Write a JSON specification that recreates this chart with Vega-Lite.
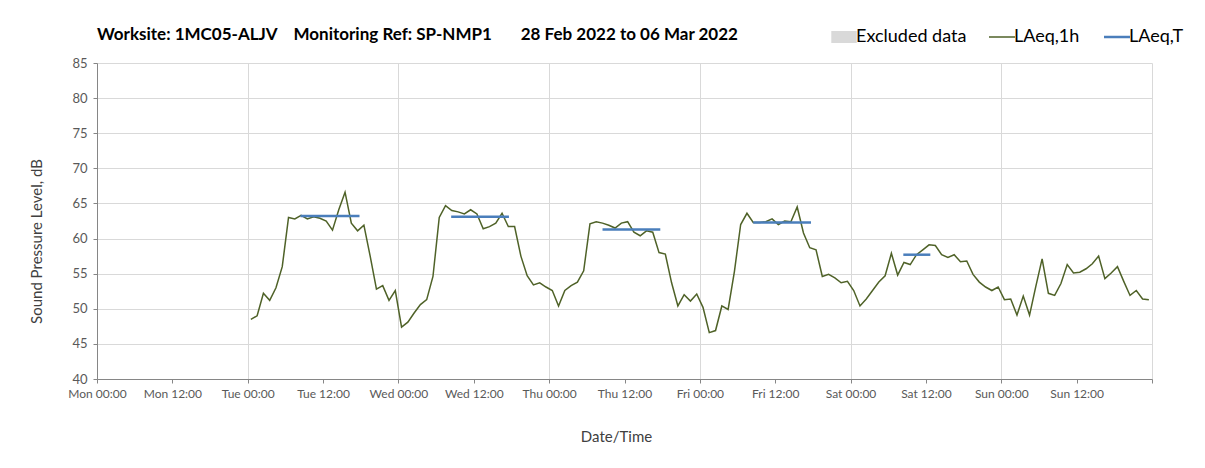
{
  "$schema": "https://vega.github.io/schema/vega-lite/v6.json",
  "autosize": "none",
  "width": 1055,
  "height": 316,
  "padding": {"left": 97, "top": 63, "right": 53, "bottom": 89},
  "background": "white",
  "config": {
    "font": "Lato",
    "view": {"stroke": null},
    "axis": {
      "domainColor": "#868686",
      "tickColor": "#868686",
      "tickSize": 4,
      "gridColor": "#d9d9d9",
      "labelColor": "#595959",
      "labelFont": "Lato",
      "labelFontSize": 12,
      "titleFont": "Lato",
      "titleFontSize": 15,
      "titleFontWeight": "normal",
      "titleColor": "#404040"
    }
  },
  "title": {
    "text": "Worksite: 1MC05-ALJV\u00a0\u00a0\u00a0\u00a0Monitoring Ref: SP-NMP1\u00a0\u00a0\u00a0\u00a0\u00a0\u00a0\u00a028 Feb 2022 to 06 Mar 2022",
    "anchor": "start",
    "frame": "group",
    "font": "Lato",
    "fontSize": 17,
    "fontWeight": "bold",
    "color": "#000000",
    "offset": 20,
    "dy": 36
  },
  "datasets": {
    "hourly": [
      {"t": "2022-03-01T00:30:00", "v": 48.5}, {"t": "2022-03-01T01:30:00", "v": 49.0}, {"t": "2022-03-01T02:30:00", "v": 52.2}, {"t": "2022-03-01T03:30:00", "v": 51.2},
      {"t": "2022-03-01T04:30:00", "v": 53.0}, {"t": "2022-03-01T05:30:00", "v": 56.0}, {"t": "2022-03-01T06:30:00", "v": 63.0}, {"t": "2022-03-01T07:30:00", "v": 62.8},
      {"t": "2022-03-01T08:30:00", "v": 63.3}, {"t": "2022-03-01T09:30:00", "v": 62.8}, {"t": "2022-03-01T10:30:00", "v": 63.1}, {"t": "2022-03-01T11:30:00", "v": 62.9},
      {"t": "2022-03-01T12:30:00", "v": 62.5}, {"t": "2022-03-01T13:30:00", "v": 61.2}, {"t": "2022-03-01T14:30:00", "v": 64.1}, {"t": "2022-03-01T15:30:00", "v": 66.6},
      {"t": "2022-03-01T16:30:00", "v": 62.2}, {"t": "2022-03-01T17:30:00", "v": 61.1}, {"t": "2022-03-01T18:30:00", "v": 61.9}, {"t": "2022-03-01T19:30:00", "v": 57.5},
      {"t": "2022-03-01T20:30:00", "v": 52.8}, {"t": "2022-03-01T21:30:00", "v": 53.3}, {"t": "2022-03-01T22:30:00", "v": 51.2}, {"t": "2022-03-01T23:30:00", "v": 52.6},
      {"t": "2022-03-02T00:30:00", "v": 47.4}, {"t": "2022-03-02T01:30:00", "v": 48.1}, {"t": "2022-03-02T02:30:00", "v": 49.4}, {"t": "2022-03-02T03:30:00", "v": 50.6},
      {"t": "2022-03-02T04:30:00", "v": 51.3}, {"t": "2022-03-02T05:30:00", "v": 54.6}, {"t": "2022-03-02T06:30:00", "v": 63.0}, {"t": "2022-03-02T07:30:00", "v": 64.7},
      {"t": "2022-03-02T08:30:00", "v": 64.0}, {"t": "2022-03-02T09:30:00", "v": 63.8}, {"t": "2022-03-02T10:30:00", "v": 63.5}, {"t": "2022-03-02T11:30:00", "v": 64.1},
      {"t": "2022-03-02T12:30:00", "v": 63.5}, {"t": "2022-03-02T13:30:00", "v": 61.4}, {"t": "2022-03-02T14:30:00", "v": 61.7}, {"t": "2022-03-02T15:30:00", "v": 62.2},
      {"t": "2022-03-02T16:30:00", "v": 63.6}, {"t": "2022-03-02T17:30:00", "v": 61.7}, {"t": "2022-03-02T18:30:00", "v": 61.7}, {"t": "2022-03-02T19:30:00", "v": 57.5},
      {"t": "2022-03-02T20:30:00", "v": 54.7}, {"t": "2022-03-02T21:30:00", "v": 53.4}, {"t": "2022-03-02T22:30:00", "v": 53.7}, {"t": "2022-03-02T23:30:00", "v": 53.1},
      {"t": "2022-03-03T00:30:00", "v": 52.6}, {"t": "2022-03-03T01:30:00", "v": 50.4}, {"t": "2022-03-03T02:30:00", "v": 52.6}, {"t": "2022-03-03T03:30:00", "v": 53.3},
      {"t": "2022-03-03T04:30:00", "v": 53.8}, {"t": "2022-03-03T05:30:00", "v": 55.4}, {"t": "2022-03-03T06:30:00", "v": 62.1}, {"t": "2022-03-03T07:30:00", "v": 62.4},
      {"t": "2022-03-03T08:30:00", "v": 62.2}, {"t": "2022-03-03T09:30:00", "v": 61.9}, {"t": "2022-03-03T10:30:00", "v": 61.5}, {"t": "2022-03-03T11:30:00", "v": 62.2},
      {"t": "2022-03-03T12:30:00", "v": 62.4}, {"t": "2022-03-03T13:30:00", "v": 60.9}, {"t": "2022-03-03T14:30:00", "v": 60.4}, {"t": "2022-03-03T15:30:00", "v": 61.1},
      {"t": "2022-03-03T16:30:00", "v": 60.9}, {"t": "2022-03-03T17:30:00", "v": 58.0}, {"t": "2022-03-03T18:30:00", "v": 57.8}, {"t": "2022-03-03T19:30:00", "v": 53.7},
      {"t": "2022-03-03T20:30:00", "v": 50.4}, {"t": "2022-03-03T21:30:00", "v": 52.0}, {"t": "2022-03-03T22:30:00", "v": 51.1}, {"t": "2022-03-03T23:30:00", "v": 52.1},
      {"t": "2022-03-04T00:30:00", "v": 50.2}, {"t": "2022-03-04T01:30:00", "v": 46.6}, {"t": "2022-03-04T02:30:00", "v": 46.9}, {"t": "2022-03-04T03:30:00", "v": 50.4},
      {"t": "2022-03-04T04:30:00", "v": 49.9}, {"t": "2022-03-04T05:30:00", "v": 55.3}, {"t": "2022-03-04T06:30:00", "v": 62.0}, {"t": "2022-03-04T07:30:00", "v": 63.6},
      {"t": "2022-03-04T08:30:00", "v": 62.3}, {"t": "2022-03-04T09:30:00", "v": 62.3}, {"t": "2022-03-04T10:30:00", "v": 62.4}, {"t": "2022-03-04T11:30:00", "v": 62.8},
      {"t": "2022-03-04T12:30:00", "v": 62.0}, {"t": "2022-03-04T13:30:00", "v": 62.5}, {"t": "2022-03-04T14:30:00", "v": 62.4}, {"t": "2022-03-04T15:30:00", "v": 64.5},
      {"t": "2022-03-04T16:30:00", "v": 60.8}, {"t": "2022-03-04T17:30:00", "v": 58.7}, {"t": "2022-03-04T18:30:00", "v": 58.4}, {"t": "2022-03-04T19:30:00", "v": 54.6},
      {"t": "2022-03-04T20:30:00", "v": 54.9}, {"t": "2022-03-04T21:30:00", "v": 54.4}, {"t": "2022-03-04T22:30:00", "v": 53.7}, {"t": "2022-03-04T23:30:00", "v": 53.9},
      {"t": "2022-03-05T00:30:00", "v": 52.6}, {"t": "2022-03-05T01:30:00", "v": 50.4}, {"t": "2022-03-05T02:30:00", "v": 51.4}, {"t": "2022-03-05T03:30:00", "v": 52.6},
      {"t": "2022-03-05T04:30:00", "v": 53.8}, {"t": "2022-03-05T05:30:00", "v": 54.7}, {"t": "2022-03-05T06:30:00", "v": 57.9}, {"t": "2022-03-05T07:30:00", "v": 54.8},
      {"t": "2022-03-05T08:30:00", "v": 56.6}, {"t": "2022-03-05T09:30:00", "v": 56.3}, {"t": "2022-03-05T10:30:00", "v": 57.7}, {"t": "2022-03-05T11:30:00", "v": 58.4},
      {"t": "2022-03-05T12:30:00", "v": 59.1}, {"t": "2022-03-05T13:30:00", "v": 59.0}, {"t": "2022-03-05T14:30:00", "v": 57.7}, {"t": "2022-03-05T15:30:00", "v": 57.3},
      {"t": "2022-03-05T16:30:00", "v": 57.7}, {"t": "2022-03-05T17:30:00", "v": 56.7}, {"t": "2022-03-05T18:30:00", "v": 56.8}, {"t": "2022-03-05T19:30:00", "v": 54.9},
      {"t": "2022-03-05T20:30:00", "v": 53.8}, {"t": "2022-03-05T21:30:00", "v": 53.1}, {"t": "2022-03-05T22:30:00", "v": 52.6}, {"t": "2022-03-05T23:30:00", "v": 53.1},
      {"t": "2022-03-06T00:30:00", "v": 51.3}, {"t": "2022-03-06T01:30:00", "v": 51.4}, {"t": "2022-03-06T02:30:00", "v": 49.1}, {"t": "2022-03-06T03:30:00", "v": 51.8},
      {"t": "2022-03-06T04:30:00", "v": 49.1}, {"t": "2022-03-06T05:30:00", "v": 53.2}, {"t": "2022-03-06T06:30:00", "v": 57.1}, {"t": "2022-03-06T07:30:00", "v": 52.2},
      {"t": "2022-03-06T08:30:00", "v": 51.9}, {"t": "2022-03-06T09:30:00", "v": 53.6}, {"t": "2022-03-06T10:30:00", "v": 56.3}, {"t": "2022-03-06T11:30:00", "v": 55.1},
      {"t": "2022-03-06T12:30:00", "v": 55.2}, {"t": "2022-03-06T13:30:00", "v": 55.7}, {"t": "2022-03-06T14:30:00", "v": 56.4}, {"t": "2022-03-06T15:30:00", "v": 57.5},
      {"t": "2022-03-06T16:30:00", "v": 54.3}, {"t": "2022-03-06T17:30:00", "v": 55.1}, {"t": "2022-03-06T18:30:00", "v": 56.0}, {"t": "2022-03-06T19:30:00", "v": 53.9},
      {"t": "2022-03-06T20:30:00", "v": 51.9}, {"t": "2022-03-06T21:30:00", "v": 52.6}, {"t": "2022-03-06T22:30:00", "v": 51.4}, {"t": "2022-03-06T23:30:00", "v": 51.3}
    ],
    "periods": [
      {"t1": "2022-03-01T08:24:00", "t2": "2022-03-01T17:48:00", "v": 63.2},
      {"t1": "2022-03-02T08:24:00", "t2": "2022-03-02T17:36:00", "v": 63.1},
      {"t1": "2022-03-03T08:30:00", "t2": "2022-03-03T17:42:00", "v": 61.3},
      {"t1": "2022-03-04T08:30:00", "t2": "2022-03-04T17:42:00", "v": 62.3},
      {"t1": "2022-03-05T08:24:00", "t2": "2022-03-05T12:42:00", "v": 57.7}
    ]
  },
  "encoding": {
    "y": {
      "field": "v",
      "type": "quantitative",
      "scale": {"domain": [40, 85], "nice": false, "zero": false},
      "axis": {
        "title": "Sound Pressure Level, dB",
        "values": [40, 45, 50, 55, 60, 65, 70, 75, 80, 85],
        "tickCount": 20,
        "labelFontSize": 13,
        "labelPadding": 6,
        "titlePadding": 27,
        "titleY": 178,
        "grid": true
      }
    }
  },
  "layer": [
    {
      "data": {"name": "hourly"},
      "mark": {"type": "line", "strokeWidth": 1.5},
      "encoding": {
        "x": {
          "field": "t",
          "type": "temporal",
          "scale": {"domain": [{"year": 2022, "month": 2, "date": 28}, {"year": 2022, "month": 3, "date": 7}]},
          "axis": {
            "title": "Date/Time",
            "values": [
              {"year": 2022, "month": 2, "date": 28, "hours": 0}, {"year": 2022, "month": 2, "date": 28, "hours": 12},
              {"year": 2022, "month": 3, "date": 1, "hours": 0}, {"year": 2022, "month": 3, "date": 1, "hours": 12},
              {"year": 2022, "month": 3, "date": 2, "hours": 0}, {"year": 2022, "month": 3, "date": 2, "hours": 12},
              {"year": 2022, "month": 3, "date": 3, "hours": 0}, {"year": 2022, "month": 3, "date": 3, "hours": 12},
              {"year": 2022, "month": 3, "date": 4, "hours": 0}, {"year": 2022, "month": 3, "date": 4, "hours": 12},
              {"year": 2022, "month": 3, "date": 5, "hours": 0}, {"year": 2022, "month": 3, "date": 5, "hours": 12},
              {"year": 2022, "month": 3, "date": 6, "hours": 0}, {"year": 2022, "month": 3, "date": 6, "hours": 12},
              {"year": 2022, "month": 3, "date": 7, "hours": 0}
            ],
            "tickCount": 30,
            "format": "%a %H:%M",
            "labelExpr": "datum.value >= datetime(2022, 2, 7) ? '' : datum.label",
            "labelPadding": 5,
            "labelFlush": false,
            "labelOverlap": false,
            "titlePadding": 30,
            "titleX": 519,
            "grid": true,
            "gridOpacity": {"condition": {"test": "hours(datum.value) === 0", "value": 1}, "value": 0}
          }
        },
        "color": {
          "datum": "LAeq,1h",
          "type": "nominal",
          "scale": {"domain": ["Excluded data", "LAeq,1h", "LAeq,T"], "range": ["#d9d9d9", "#4f6228", "#4a7ebb"]},
          "legend": {
            "title": null,
            "orient": "none",
            "direction": "horizontal",
            "legendX": 738,
            "legendY": -35,
            "labelFont": "Lato",
            "labelFontSize": 18,
            "labelColor": "#000000",
            "labelOffset": 3,
            "columnPadding": 19,
            "symbolSize": 676,
            "symbolType": "stroke",
            "encode": {
              "symbols": {
                "update": {
                  "shape": {"signal": "datum.value === 'Excluded data' ? 'M-0.92,-0.4H0.92V0.4H-0.92Z' : 'stroke'"},
                  "fill": {"signal": "datum.value === 'Excluded data' ? '#d9d9d9' : 'transparent'"},
                  "stroke": {"signal": "datum.value === 'Excluded data' ? 'transparent' : (datum.value === 'LAeq,1h' ? '#4f6228' : '#4a7ebb')"},
                  "strokeWidth": {"signal": "datum.value === 'LAeq,T' ? 2.5 : 1.5"},
                  "opacity": {"value": 1}
                }
              }
            }
          }
        }
      }
    },
    {
      "data": {"name": "periods"},
      "mark": {"type": "rule", "strokeWidth": 2.5},
      "encoding": {
        "x": {"field": "t1", "type": "temporal"},
        "x2": {"field": "t2"},
        "color": {"datum": "LAeq,T", "type": "nominal"}
      }
    }
  ]
}
